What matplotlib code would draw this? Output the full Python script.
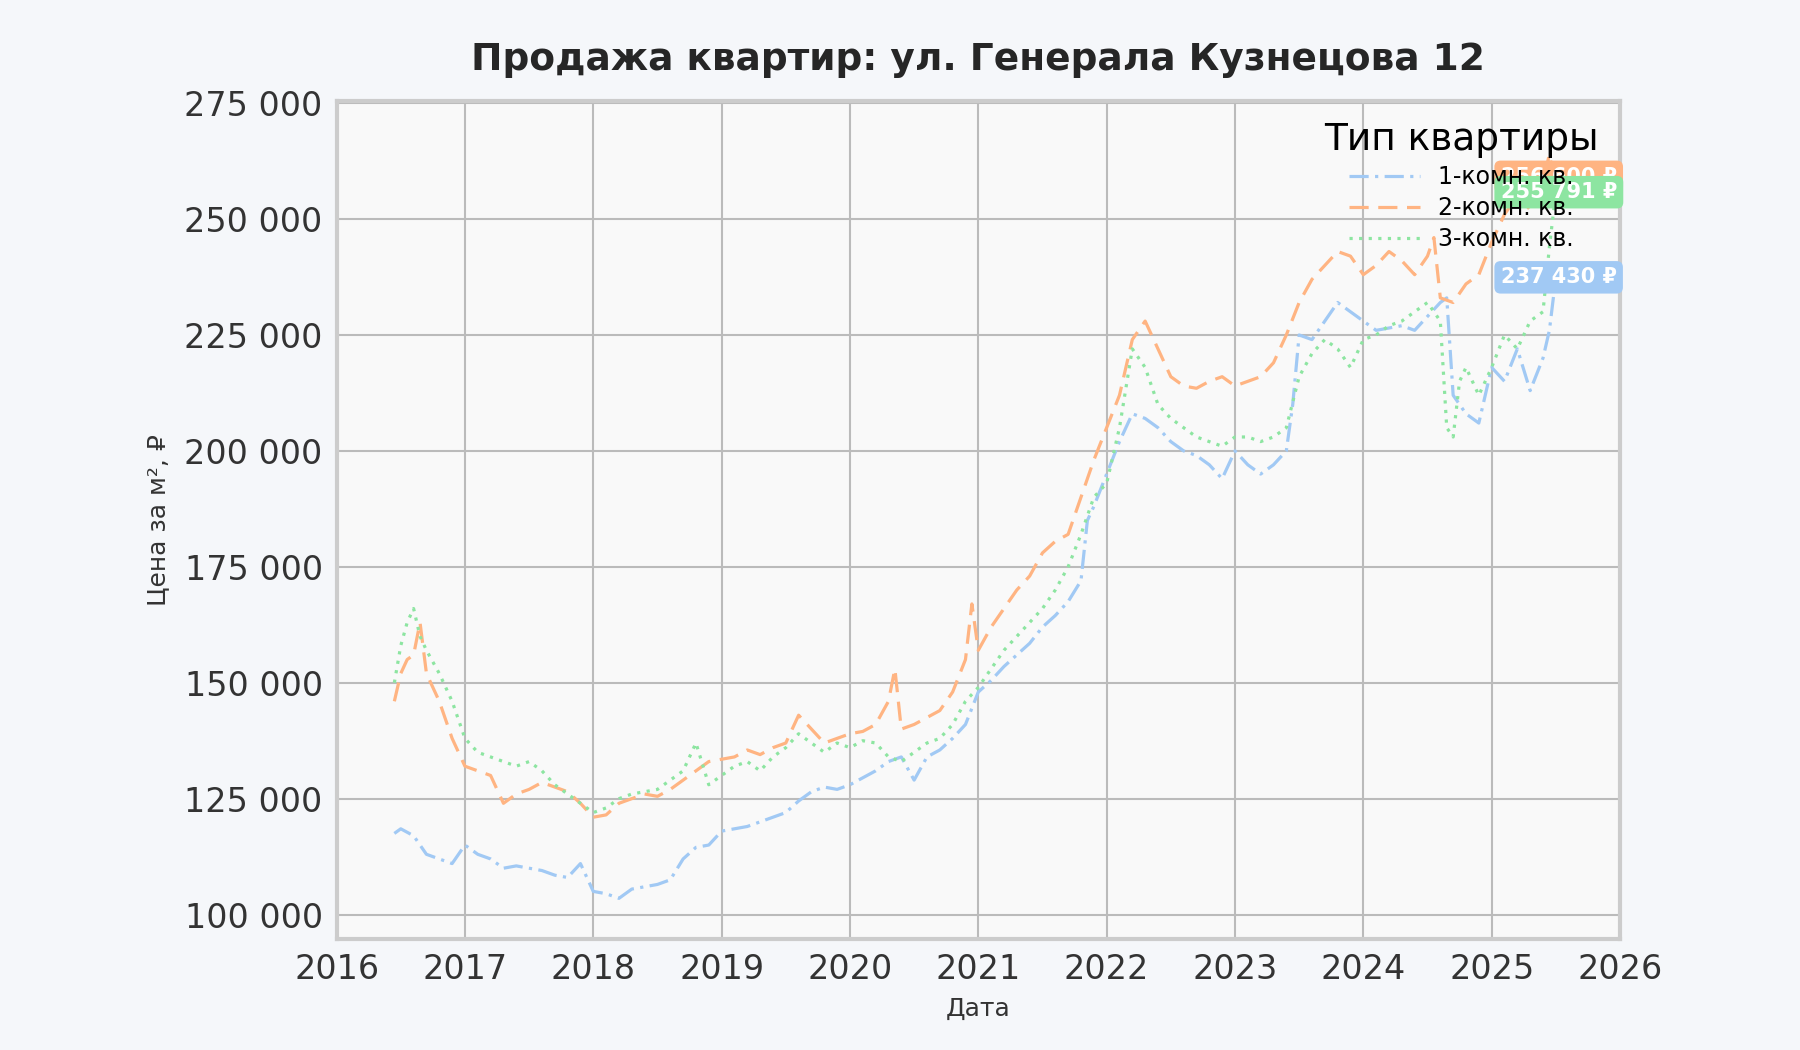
import matplotlib
matplotlib.use("Agg")
import matplotlib.pyplot as plt
import matplotlib.ticker as mticker

# decimal-year positions and price per m2 for each flat type
t1 = [2016.45, 2016.5, 2016.6, 2016.7, 2016.8, 2016.9, 2017.0, 2017.1, 2017.2, 2017.3, 2017.4, 2017.5,
      2017.6, 2017.7, 2017.8, 2017.9, 2018.0, 2018.1, 2018.2, 2018.3, 2018.4, 2018.5, 2018.6, 2018.7,
      2018.8, 2018.9, 2019.0, 2019.1, 2019.2, 2019.3, 2019.4, 2019.5, 2019.6, 2019.7, 2019.8, 2019.9,
      2020.0, 2020.1, 2020.2, 2020.3, 2020.4, 2020.5, 2020.6, 2020.7, 2020.8, 2020.9, 2021.0, 2021.1,
      2021.2, 2021.3, 2021.4, 2021.5, 2021.6, 2021.7, 2021.8, 2021.85, 2021.9, 2022.0, 2022.1, 2022.2,
      2022.3, 2022.4, 2022.5, 2022.6, 2022.7, 2022.8, 2022.9, 2023.0, 2023.1, 2023.2, 2023.3, 2023.4,
      2023.45, 2023.5, 2023.6, 2023.7, 2023.8, 2023.9, 2024.0, 2024.1, 2024.2, 2024.3, 2024.4, 2024.5,
      2024.6, 2024.65, 2024.7, 2024.8, 2024.9, 2025.0, 2025.1, 2025.2, 2025.3, 2025.4, 2025.45, 2025.5]
v1 = [117500, 118500, 117000, 113000, 112000, 111000, 115000, 113000, 112000, 110000, 110500, 110000,
      109500, 108500, 108000, 111000, 105000, 104500, 103500, 105500, 106000, 106500, 107500, 112000,
      114500, 115000, 118000, 118500, 119000, 120000, 121000, 122000, 124500, 126500, 127500, 127000,
      128000, 129500, 131000, 133000, 134000, 129000, 134000, 135500, 138000, 141000, 148000, 150500,
      153500, 156000, 158500, 162000, 164500, 167500, 172000, 185000, 188000, 195000, 202000, 208000,
      207000, 205000, 202000, 200000, 199000, 197000, 194000, 200000, 197000, 195000, 197000, 200000,
      210000, 225000, 224000, 228000, 232000, 230000, 228000, 226000, 226500, 227000, 226000, 229000,
      232000, 233000, 212000, 208000, 206000, 218000, 215000, 222000, 213000, 220000, 226000, 237430]

t2 = [2016.45, 2016.5, 2016.55, 2016.6, 2016.65, 2016.7, 2016.8, 2016.9, 2017.0, 2017.1, 2017.2, 2017.3,
      2017.4, 2017.5, 2017.6, 2017.7, 2017.8, 2017.9, 2018.0, 2018.1, 2018.2, 2018.3, 2018.4, 2018.5,
      2018.6, 2018.7, 2018.8, 2018.9, 2019.0, 2019.1, 2019.2, 2019.3, 2019.4, 2019.5, 2019.6, 2019.7,
      2019.8, 2019.9, 2020.0, 2020.1, 2020.2, 2020.3, 2020.35, 2020.4, 2020.5, 2020.6, 2020.7, 2020.8,
      2020.9, 2020.95, 2021.0, 2021.1, 2021.2, 2021.3, 2021.4, 2021.5, 2021.6, 2021.7, 2021.8, 2021.9,
      2022.0, 2022.1, 2022.2, 2022.3, 2022.4, 2022.5, 2022.6, 2022.7, 2022.8, 2022.9, 2023.0, 2023.1,
      2023.2, 2023.3, 2023.4, 2023.5, 2023.6, 2023.7, 2023.8, 2023.9, 2024.0, 2024.1, 2024.2, 2024.3,
      2024.4, 2024.5, 2024.55, 2024.6, 2024.7, 2024.8, 2024.9, 2025.0, 2025.1, 2025.2, 2025.3, 2025.4,
      2025.45, 2025.5]
v2 = [146000, 152000, 155000, 156000, 163000, 152000, 146000, 138000, 132000, 131000, 130000, 124000,
      126000, 127000, 128500, 127500, 126500, 124000, 121000, 121500, 124000, 125000, 126000, 125500,
      127000, 129000, 131000, 133000, 133500, 134000, 135500, 134500, 136000, 137000, 143000, 140000,
      137000, 138000, 139000, 139500, 141000, 146000, 153000, 140000, 141000, 142500, 144000, 148000,
      155000, 167000, 157000, 162000, 166000, 170000, 173000, 178000, 180500, 182000, 190000, 198000,
      205000, 212000, 224000, 228000, 222000, 216000, 214000, 213500, 215000, 216000, 214000, 215000,
      216000, 219000, 225000, 232000, 237000, 240000, 243000, 242000, 238000, 240000, 243000, 241000,
      238000, 242000, 246000, 233000, 232000, 236000, 238000, 245000, 251000, 255000, 252000, 258000,
      264000, 256600]

t3 = [2016.45, 2016.5, 2016.55, 2016.6, 2016.65, 2016.7, 2016.8, 2016.9, 2017.0, 2017.1, 2017.2, 2017.3,
      2017.4, 2017.5, 2017.6, 2017.7, 2017.8, 2017.9, 2018.0, 2018.1, 2018.2, 2018.3, 2018.4, 2018.5,
      2018.6, 2018.7, 2018.8, 2018.9, 2019.0, 2019.1, 2019.2, 2019.3, 2019.4, 2019.5, 2019.6, 2019.7,
      2019.8, 2019.9, 2020.0, 2020.1, 2020.2, 2020.3, 2020.4, 2020.5, 2020.6, 2020.7, 2020.8, 2020.9,
      2021.0, 2021.1, 2021.2, 2021.3, 2021.4, 2021.5, 2021.6, 2021.7, 2021.8, 2021.9, 2022.0, 2022.1,
      2022.2, 2022.3, 2022.4, 2022.5, 2022.6, 2022.7, 2022.8, 2022.9, 2023.0, 2023.1, 2023.2, 2023.3,
      2023.4, 2023.5, 2023.6, 2023.7, 2023.8, 2023.9, 2024.0, 2024.1, 2024.2, 2024.3, 2024.4, 2024.5,
      2024.6, 2024.65, 2024.7, 2024.75, 2024.8, 2024.9, 2025.0, 2025.1, 2025.2, 2025.3, 2025.4, 2025.45,
      2025.5]
v3 = [150000, 158000, 163000, 166000, 160000, 157000, 152000, 146000, 138000, 135000, 134000, 133000,
      132000, 133000, 131000, 128000, 126000, 124000, 122000, 123000, 125000, 126000, 126500, 127000,
      129000, 131000, 137000, 128000, 130000, 132000, 133000, 131000, 134000, 136000, 139000, 137000,
      135000, 137000, 136000, 137500, 137000, 134000, 133000, 135000, 137000, 138000, 141000, 146000,
      149000, 153000, 157000, 160000, 163000, 166000, 170000, 175000, 182000, 190000, 193000, 205000,
      222000, 218000, 210000, 207000, 205000, 203000, 202000, 201000, 203000, 203000, 202000, 203000,
      205000, 216000, 221000, 224000, 222000, 218000, 224000, 225000, 227000, 228000, 230000, 232000,
      228000, 205000, 203000, 215000, 218000, 212000, 218000, 225000, 222000, 228000, 230000, 244000,
      255791]

names = ["1-комн. кв.", "2-комн. кв.", "3-комн. кв."]
colors = ["#a1c9f4", "#ffb482", "#8de5a1"]
styles = [(0, (6, 2, 1, 2)), (0, (6, 3)), (0, (1, 2))]

fig = plt.figure(figsize=(18, 10.5), dpi=100, facecolor="#f5f7fa")
ax = fig.add_axes([0.187, 0.106, 0.713, 0.798], facecolor="#f9f9f9")

for t, v, c, ls, n in zip([t1, t2, t3], [v1, v2, v3], colors, styles, names):
    ax.plot(t, v, color=c, ls=ls, lw=2.3, label=n)

# labels for last values (orange sits mostly behind green in the reference)
for v, c, dy in [(v2, colors[1], 2500), (v3, colors[2], 0), (v1, colors[0], 0)]:
    ax.text(2025.07, v[-1] + dy, f"{v[-1]:,} ₽".replace(",", " "), color="white",
            fontsize=15, fontweight="bold", va="center", ha="left",
            bbox=dict(boxstyle="round,pad=0.3", fc=c, ec="none"))

ax.set_xlim(2016, 2026)
ax.set_ylim(94800, 275500)
ax.set_xticks(range(2016, 2027))
ax.yaxis.set_major_locator(mticker.MultipleLocator(25000))
ax.yaxis.set_major_formatter(mticker.FuncFormatter(lambda y, p: f"{int(y):,}".replace(",", " ")))
ax.tick_params(labelsize=24, colors="#333333", length=0, pad=10)
ax.grid(True, color="#bbbbbb", lw=1.5)
ax.set_axisbelow(True)
for s in ax.spines.values():
    s.set_color("#cccccc")
    s.set_linewidth(3)

ax.set_title("Продажа квартир: ул. Генерала Кузнецова 12", fontsize=27,
             fontweight="bold", color="#262626", pad=22)
ax.set_xlabel("Дата", fontsize=18, color="#333333", labelpad=8)
ax.set_ylabel("Цена за м², ₽", fontsize=18, color="#333333", labelpad=10)

leg = ax.legend(title="Тип квартиры", loc="upper right", fontsize=17,
                title_fontsize=27, frameon=False, handlelength=3, labelspacing=0.3)

fig.savefig("out.png", dpi=100, facecolor=fig.get_facecolor())
